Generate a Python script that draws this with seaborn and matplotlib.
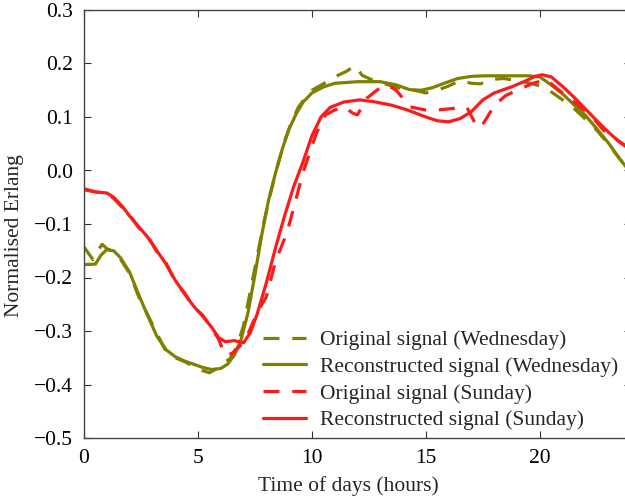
import numpy as np
import pandas as pd
import matplotlib
matplotlib.use("Agg")
import matplotlib.pyplot as plt
import seaborn as sns

# Hour-of-day samples and normalised Erlang traffic for each series
wed_rec_t = [0, 0.5, 0.75, 1.0, 1.3, 1.6, 2.0, 2.4, 2.8, 3.2, 3.6, 4.0, 4.4, 4.8, 5.2, 5.6,
             6.0, 6.3, 6.6, 6.9, 7.2, 7.5, 7.8, 8.1, 8.4, 8.7, 9.0, 9.3, 9.6, 10.0, 10.5,
             11.0, 12.0, 13.0, 13.7, 14.3, 14.8, 15.3, 15.8, 16.4, 17.0, 17.6, 18.5, 19.5,
             20.0, 20.5, 21.0, 21.5, 22.0, 22.5, 23.0, 23.5, 24.0]
wed_rec_v = [-0.176, -0.175, -0.158, -0.148, -0.150, -0.163, -0.190, -0.232, -0.272, -0.310,
             -0.335, -0.348, -0.356, -0.362, -0.368, -0.372, -0.370, -0.362, -0.345, -0.315,
             -0.265, -0.195, -0.120, -0.055, -0.005, 0.040, 0.078, 0.105, 0.127, 0.145,
             0.156, 0.163, 0.166, 0.166, 0.160, 0.151, 0.150, 0.155, 0.163, 0.172, 0.176,
             0.177, 0.177, 0.177, 0.175, 0.160, 0.143, 0.123, 0.103, 0.078, 0.052, 0.022,
             -0.005]

wed_org_t = [0, 0.4, 0.6, 0.8, 1.0, 1.3, 1.6, 2.0, 2.4, 2.8, 3.2, 3.6, 4.0, 4.4, 4.8, 5.2,
             5.5, 5.8, 6.1, 6.4, 6.7, 7.0, 7.3, 7.6, 7.9, 8.2, 8.5, 8.8, 9.1, 9.4, 9.7, 10.0,
             10.5, 11.0, 11.5, 11.9, 12.2, 12.6, 13.0, 13.5, 14.0, 14.5, 15.0, 15.5, 16.0,
             16.5, 17.0, 17.4, 17.8, 18.4, 19.0, 19.6, 20.0, 20.4, 20.9, 21.4, 21.9, 22.4,
             23.0, 23.5, 24.0]
wed_org_v = [-0.143, -0.167, -0.150, -0.138, -0.146, -0.152, -0.166, -0.192, -0.236, -0.270,
             -0.305, -0.338, -0.350, -0.357, -0.366, -0.374, -0.378, -0.371, -0.360, -0.352,
             -0.330, -0.290, -0.225, -0.160, -0.095, -0.040, 0.010, 0.055, 0.090, 0.118,
             0.135, 0.150, 0.162, 0.175, 0.185, 0.196, 0.178, 0.170, 0.165, 0.158, 0.152,
             0.150, 0.145, 0.150, 0.158, 0.168, 0.163, 0.162, 0.170, 0.172, 0.168, 0.163,
             0.158, 0.150, 0.135, 0.120, 0.100, 0.080, 0.050, 0.022, -0.005]

sun_rec_t = [0, 0.5, 1.0, 1.3, 1.7, 2.0, 2.4, 2.8, 3.2, 3.6, 4.0, 4.4, 4.8, 5.2, 5.6, 5.9,
             6.2, 6.6, 7.0, 7.3, 7.6, 8.0, 8.4, 8.8, 9.2, 9.6, 10.0, 10.4, 10.8, 11.4, 12.1,
             12.8, 13.5, 14.2, 15.0, 15.5, 16.0, 16.5, 17.0, 17.5, 18.0, 18.8, 19.4, 19.8,
             20.1, 20.5, 21.0, 21.5, 22.0, 22.5, 23.0, 23.5, 24.0]
sun_rec_v = [-0.036, -0.040, -0.042, -0.050, -0.068, -0.085, -0.105, -0.125, -0.150, -0.175,
             -0.205, -0.230, -0.253, -0.272, -0.293, -0.312, -0.320, -0.318, -0.322, -0.303,
             -0.268, -0.210, -0.145, -0.085, -0.030, 0.015, 0.065, 0.100, 0.118, 0.128,
             0.132, 0.128, 0.122, 0.113, 0.100, 0.093, 0.091, 0.097, 0.110, 0.132, 0.145,
             0.157, 0.168, 0.176, 0.179, 0.175, 0.157, 0.137, 0.115, 0.093, 0.072, 0.053,
             0.038]

sun_org_t = [0, 0.5, 1.0, 1.3, 1.7, 2.0, 2.4, 2.8, 3.2, 3.6, 4.0, 4.4, 4.8, 5.2, 5.6, 5.9,
             6.2, 6.5, 6.8, 7.1, 7.4, 7.7, 8.0, 8.4, 8.9, 9.2, 9.6, 10.2, 10.6, 11.0, 11.4,
             11.8, 12.0, 12.4, 13.0, 13.3, 13.7, 14.3, 15.0, 15.5, 16.2, 16.8, 17.2, 17.4,
             17.7, 18.0, 18.5, 19.0, 19.7, 20.3, 20.7, 21.2, 21.7, 22.3, 22.8, 23.3, 23.8,
             24.0]
sun_org_v = [-0.034, -0.040, -0.043, -0.052, -0.070, -0.083, -0.107, -0.123, -0.152, -0.173,
             -0.207, -0.228, -0.255, -0.270, -0.295, -0.315, -0.345, -0.342, -0.330, -0.315,
             -0.285, -0.258, -0.236, -0.170, -0.117, -0.070, -0.005, 0.070, 0.104, 0.113,
             0.119, 0.107, 0.104, 0.135, 0.155, 0.160, 0.150, 0.119, 0.113, 0.113, 0.116,
             0.118, 0.085, 0.080, 0.100, 0.122, 0.140, 0.150, 0.163, 0.170, 0.155, 0.138,
             0.122, 0.100, 0.075, 0.060, 0.045, 0.035]

series_labels = ["Original signal (Wednesday)", "Reconstructed signal (Wednesday)",
                 "Original signal (Sunday)", "Reconstructed signal (Sunday)"]
x_ticks = [0, 5, 10, 15, 20]
y_ticks = [-0.5, -0.4, -0.3, -0.2, -0.1, 0.0, 0.1, 0.2, 0.3]

frames = []
for lab, t, v in zip(series_labels,
                     [wed_org_t, wed_rec_t, sun_org_t, sun_rec_t],
                     [wed_org_v, wed_rec_v, sun_org_v, sun_rec_v]):
    frames.append(pd.DataFrame({"hour": t, "erlang": v, "series": lab}))
df = pd.concat(frames, ignore_index=True)

sns.set_theme(style="ticks")
plt.rcParams["font.family"] = ["Liberation Serif", "DejaVu Serif"]
plt.rcParams["axes.unicode_minus"] = True

W, H = 625, 498
fig = plt.figure(figsize=(W / 100, H / 100), dpi=100)
# axes box extends a little past the right border of the canvas
ax_l, ax_r, ax_t, ax_b = 84, 631, 10, 438
ax = fig.add_axes([ax_l / W, (H - ax_b) / H, (ax_r - ax_l) / W, (ax_b - ax_t) / H])

olive = "#808000"
red = "#ff1a1a"
dash = (5.0, 4.0)
styles = {
    series_labels[0]: dict(color=olive, dashes=dash),
    series_labels[1]: dict(color=olive),
    series_labels[2]: dict(color=red, dashes=dash),
    series_labels[3]: dict(color=red),
}
for lab in series_labels:
    sub = df[df["series"] == lab]
    sns.lineplot(data=sub, x="hour", y="erlang", ax=ax, color=styles[lab]["color"],
                 lw=2.3, label=lab, sort=False, estimator=None)
for ln, lab in zip(ax.get_lines(), series_labels):
    if "dashes" in styles[lab]:
        ln.set_dashes(styles[lab]["dashes"])

ax.set_xlim(0, 24)
ax.set_ylim(-0.5, 0.3)
ax.set_xticks(x_ticks)
ax.set_yticks(y_ticks)
ax.set_yticklabels([f"{v:.1f}".replace("-", "\u2212") for v in y_ticks])
ax.tick_params(direction="in", length=5, width=0.8, labelsize=15.5, colors="#333333",
               labelcolor="black", top=True, right=True, pad=8)
for s in ax.spines.values():
    s.set_color("#444444")
    s.set_linewidth(1.0)

ax.set_xlabel("Time of days (hours)", fontsize=15.5)
ax.set_ylabel("Normalised Erlang", fontsize=15.5)
# place axis titles by canvas pixel position
ax.xaxis.set_label_coords((348 - ax_l) / (ax_r - ax_l), -(486 - ax_b) / (ax_b - ax_t))
ax.xaxis.label.set_va("center")
ax.yaxis.set_label_coords(-(ax_l - 15) / (ax_r - ax_l), (ax_b - 236) / (ax_b - ax_t))
ax.yaxis.label.set_va("center")

leg = ax.legend(loc="upper left", bbox_to_anchor=(263 / W, 1 - 330 / H),
                bbox_transform=fig.transFigure, frameon=False, fontsize=15.5,
                handlelength=2.0, handletextpad=0.65, labelspacing=0.31,
                borderpad=0, borderaxespad=0)

fig.savefig("out.png", dpi=100)
